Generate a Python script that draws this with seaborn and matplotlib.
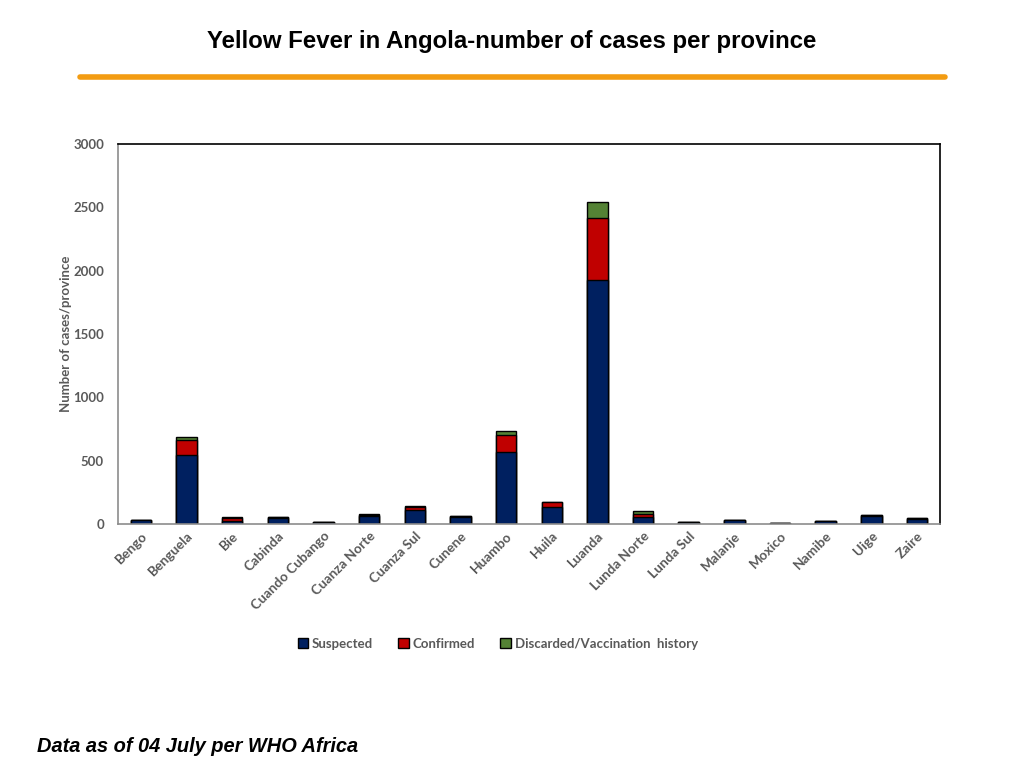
import pandas as pd
import matplotlib
matplotlib.use('Agg')
import matplotlib.pyplot as plt
import seaborn as sns
from matplotlib.patches import Patch
from matplotlib.lines import Line2D

# Dados
provincias = ['Bengo', 'Benguela', 'Bie', 'Cabinda', 'Cuando Cubango', 'Cuanza Norte',
              'Cuanza Sul', 'Cunene', 'Huambo', 'Huila', 'Luanda', 'Lunda Norte',
              'Lunda Sul', 'Malanje', 'Moxico', 'Namibe', 'Uige', 'Zaire']
suspeitos = [30, 545, 25, 50, 12, 60, 110, 58, 570, 135, 1928, 57, 13, 30, 6, 22, 65, 40]
confirmados = [3, 118, 25, 5, 2, 15, 25, 3, 133, 35, 490, 25, 1, 3, 1, 3, 5, 6]
descartados = [2, 24, 5, 0, 1, 5, 5, 2, 32, 5, 126, 21, 1, 2, 1, 2, 2, 2]

df = pd.DataFrame({'Provincia': provincias, 'Suspected': suspeitos,
                   'Confirmed': confirmados, 'Discarded': descartados})
df['sc'] = df['Suspected'] + df['Confirmed']
df['total'] = df['sc'] + df['Discarded']

cor_s = '#002060'
cor_c = '#C00000'
cor_d = '#548235'
cinza = '#595959'

sns.set_theme(style='white')
plt.rcParams['font.family'] = ['Lato', 'DejaVu Sans']

fig = plt.figure(figsize=(10.24, 7.68), dpi=100)
ax = fig.add_axes([0.1152, 0.3177, 0.8027, 0.4948])

# Barras empilhadas: total por baixo, depois parciais por cima
sns.barplot(data=df, x='Provincia', y='total', color=cor_d, width=0.45,
            edgecolor='black', linewidth=1, saturation=1, ax=ax)
sns.barplot(data=df, x='Provincia', y='sc', color=cor_c, width=0.45,
            edgecolor='black', linewidth=1, saturation=1, ax=ax)
sns.barplot(data=df, x='Provincia', y='Suspected', color=cor_s, width=0.45,
            edgecolor='black', linewidth=1, saturation=1, ax=ax)

ax.set_ylim(0, 3000)
ax.set_xlim(-0.5, len(provincias) - 0.5)
ax.set_yticks([0, 500, 1000, 1500, 2000, 2500, 3000])
ax.set_xlabel('')
ax.set_ylabel('Number of cases/province', fontsize=9.5, fontweight='bold', color=cinza, labelpad=1)
ax.tick_params(axis='y', labelsize=9.5, colors=cinza, length=0, pad=10)
ax.tick_params(axis='x', labelsize=9.8, colors=cinza, length=0, pad=4)
for t in ax.get_yticklabels():
    t.set_fontweight('bold')
ax.set_xticks(range(len(provincias)))
ax.set_xticklabels(provincias, rotation=45, ha='right', rotation_mode='anchor', fontweight='bold')

for lado in ['top', 'right']:
    ax.spines[lado].set_color('black')
    ax.spines[lado].set_linewidth(1.2)
for lado in ['left', 'bottom']:
    ax.spines[lado].set_color('#8c8c8c')
    ax.spines[lado].set_linewidth(1.2)

# Legenda
handles = [Patch(facecolor=cor_s, edgecolor='black', label='Suspected'),
           Patch(facecolor=cor_c, edgecolor='black', label='Confirmed'),
           Patch(facecolor=cor_d, edgecolor='black', label='Discarded/Vaccination  history')]
leg = fig.legend(handles=handles, loc='center', bbox_to_anchor=(0.486, 0.1615), ncol=3,
                 frameon=False, fontsize=9.5, handlelength=0.8, handleheight=0.8,
                 handletextpad=0.3, columnspacing=1.9)
for t in leg.get_texts():
    t.set_color(cinza)
    t.set_fontweight('bold')

# Título e linha laranja
fig.text(0.5, 0.946, 'Yellow Fever in Angola-number of cases per province', ha='center', va='center',
         fontsize=17.3, fontweight='bold', color='black', family=['Liberation Sans', 'DejaVu Sans'])
fig.add_artist(Line2D([0.078, 0.923], [0.8997, 0.8997], color='#F39C12', linewidth=4))

# Nota de rodapé
fig.text(0.036, 0.028, 'Data as of 04 July per WHO Africa', ha='left', va='center', color='black',
         fontsize=14.4, fontweight='bold', style='italic', family=['Liberation Sans', 'DejaVu Sans'])

fig.savefig('out.png', dpi=100)
